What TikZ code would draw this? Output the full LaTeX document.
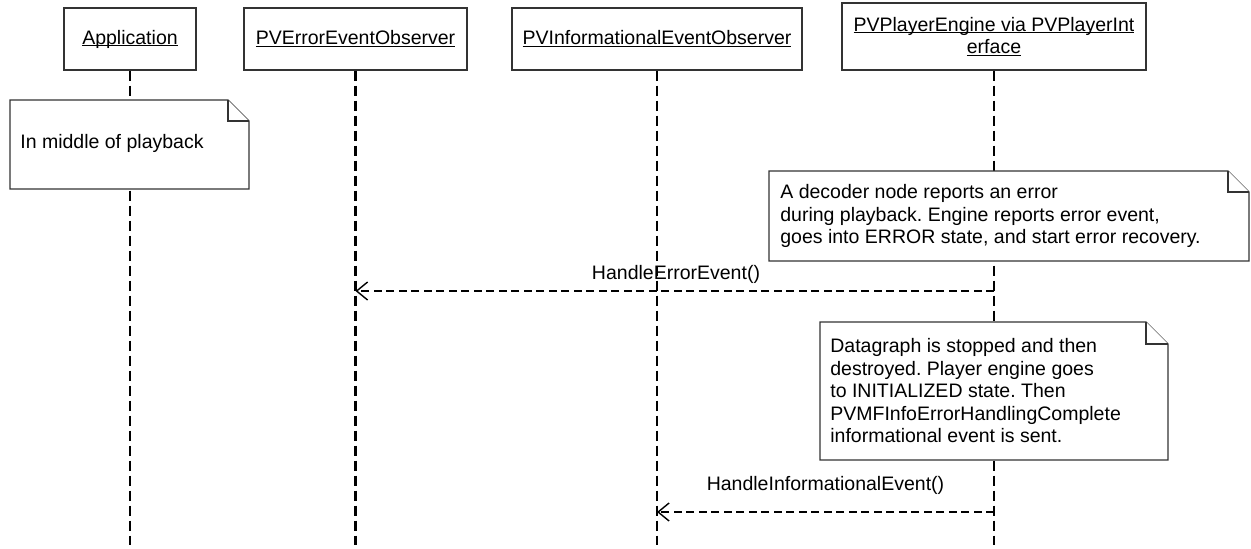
\documentclass[tikz,border=0pt]{standalone}
\usepackage{fontspec}
\setmainfont{Liberation Sans}
\usetikzlibrary{arrows.meta}
\newcommand{\undl}[1]{\setbox0\hbox{#1}\rlap{\rule[-0.12em]{\wd0}{0.065em}}\box0}
\frenchspacing

\begin{document}
\begin{tikzpicture}[font=\fontsize{11.1}{12.8}\selectfont,
  actor/.style={draw=black!80, line width=0.7pt, minimum height=1.24cm, inner sep=0pt, align=center},
  life/.style={line width=1.2pt, dash pattern=on 0.2cm off 0.1cm},
  msg/.style={line width=1.1pt, dash pattern=on 0.16cm off 0.09cm, -{Straight Barb[length=0.22cm,width=0.36cm,line width=0.8pt]}},
  notebox/.style={draw=black!80, fill=white, line width=0.7pt},
  notetext/.style={anchor=west, align=left, inner sep=0pt}]
\useasboundingbox (0,0) rectangle (25.02,-10.96);

\node[actor, minimum width=2.64cm] (app) at (2.60,-0.78) {\undl{Application}};
\node[actor, minimum width=4.46cm] (err) at (7.11,-0.78) {\undl{PVErrorEventObserver}};
\node[actor, minimum width=5.80cm] (info) at (13.14,-0.78) {\undl{PVInformationalEventObserver}};
\node[actor, minimum width=6.08cm, minimum height=1.34cm] (eng) at (19.88,-0.73)
  {\undl{PVPlayerEngine via PVPlayerInt}\\\undl{erface}};

\coordinate (appEnd) at (2.60,-10.9);
\coordinate (errEnd) at (7.11,-10.9);
\coordinate (infoEnd) at (13.14,-10.9);
\coordinate (engEnd) at (19.88,-10.9);
\draw[life] (app) -- (appEnd);
\draw[life] (err) -- (errEnd);
\draw[life] (info) -- (infoEnd);
\draw[life] (eng) -- (engEnd);

% notes
\draw[notebox] (0.20,-2.00) -- (4.56,-2.00) -- (4.98,-2.42) -- (4.98,-3.78) -- (0.20,-3.78) -- cycle;
\draw[notebox] (4.56,-2.00) -- (4.56,-2.42) -- (4.98,-2.42);
\node[notetext] (playNote) at (0.40,-2.86) {In middle of playback};

\draw[notebox] (15.38,-3.42) -- (24.56,-3.42) -- (24.98,-3.84) -- (24.98,-5.22) -- (15.38,-5.22) -- cycle;
\draw[notebox] (24.56,-3.42) -- (24.56,-3.84) -- (24.98,-3.84);
\node[notetext] (errNote) at (15.60,-4.32) {A decoder node reports an error\\during playback. Engine reports error event,\\goes into ERROR state, and start error recovery.};

\draw[notebox] (16.40,-6.44) -- (22.92,-6.44) -- (23.36,-6.88) -- (23.36,-9.20) -- (16.40,-9.20) -- cycle;
\draw[notebox] (22.92,-6.44) -- (22.92,-6.88) -- (23.36,-6.88);
\node[notetext] (infoNote) at (16.60,-7.82) {Datagraph is stopped and then\\destroyed. Player engine goes\\to INITIALIZED state. Then\\PVMFInfoErrorHandlingComplete\\informational event is sent.};

% messages
\coordinate (errFrom) at (19.88,-5.82);
\coordinate (errTo) at (7.11,-5.82);
\draw[msg] (errFrom) -- (errTo);
\node (errLbl) at (13.52,-5.48) {HandleErrorEvent()};

\coordinate (infoFrom) at (19.88,-10.24);
\coordinate (infoTo) at (13.14,-10.24);
\draw[msg] (infoFrom) -- (infoTo);
\node (infoLbl) at (16.51,-9.70) {HandleInformationalEvent()};
\end{tikzpicture}
\end{document}
